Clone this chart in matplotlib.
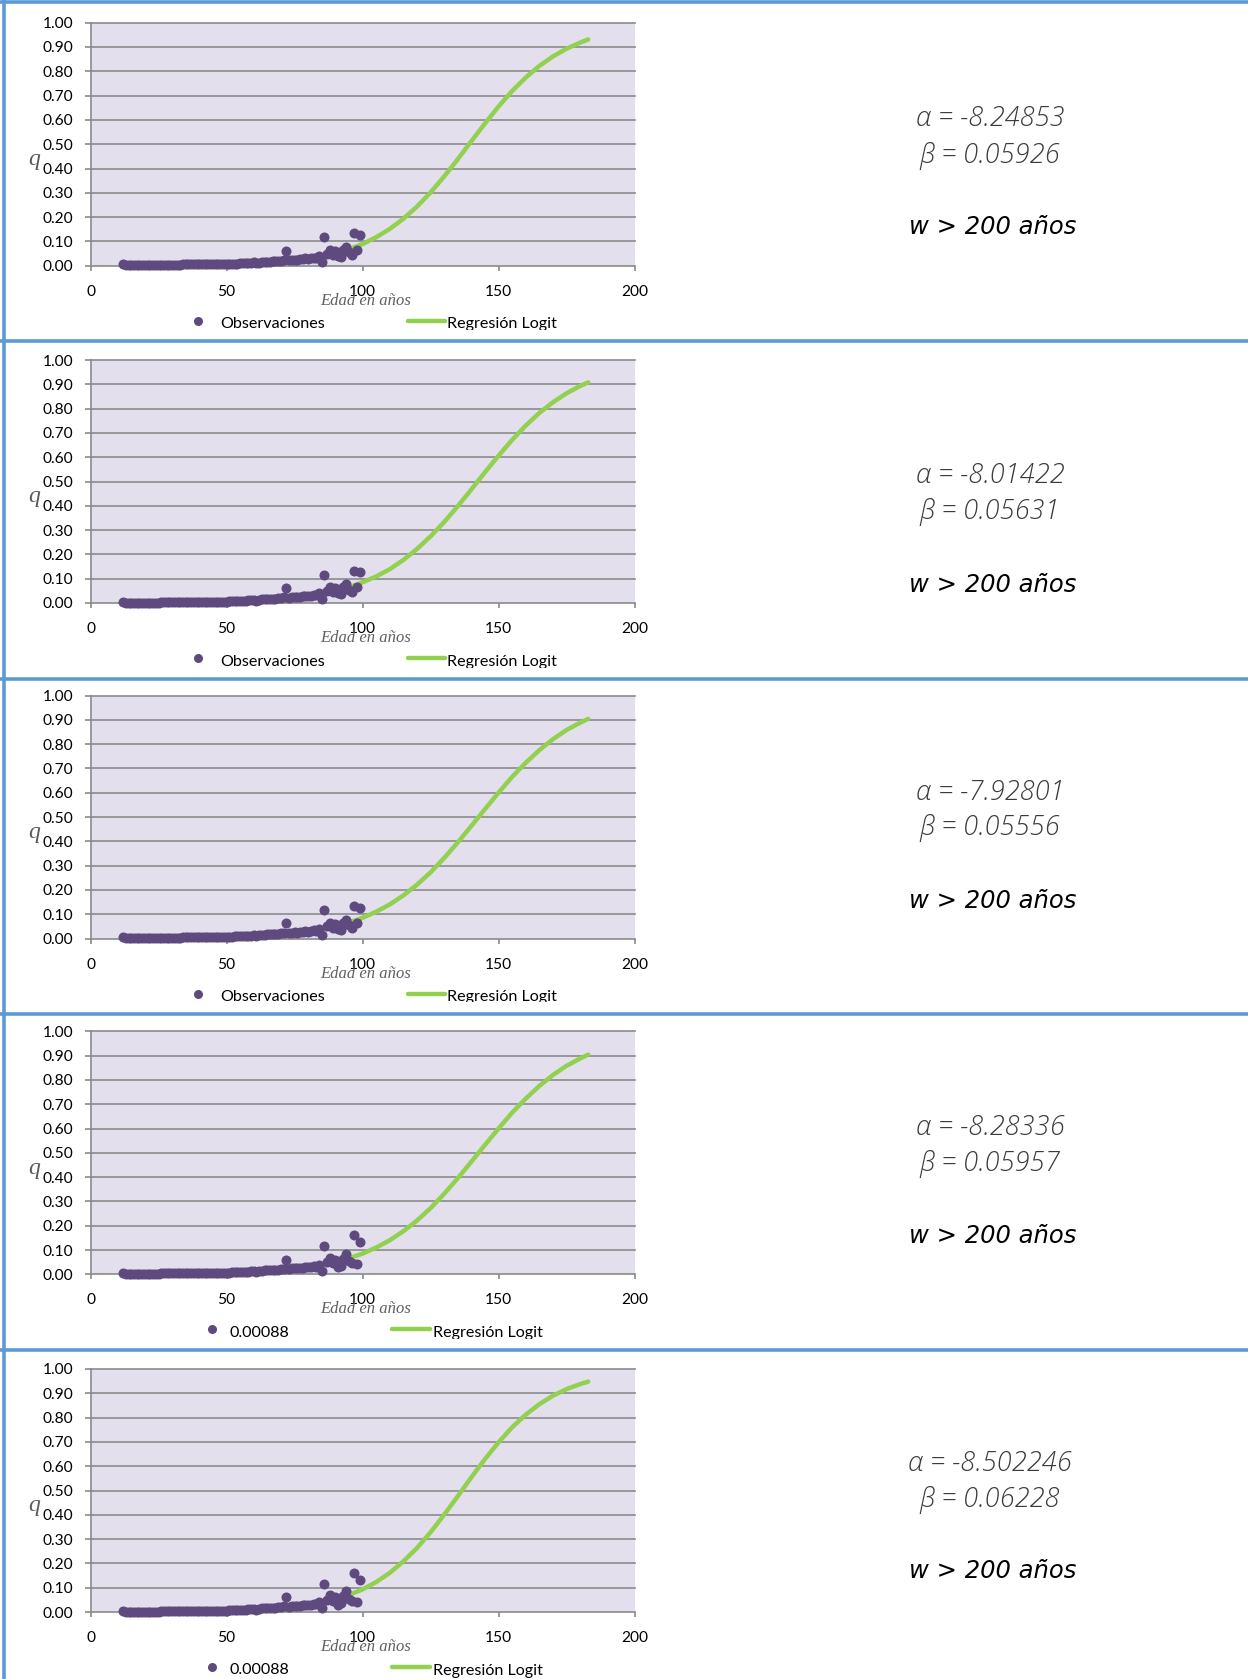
import matplotlib
matplotlib.use('Agg')
import matplotlib.pyplot as plt
from matplotlib.lines import Line2D
from matplotlib.transforms import Bbox, TransformedBbox

W, H = 1248, 1679

# ---- datos ----
obs_age = list(range(12, 100))
# filas 1-3
obs_q_a = [0.006, 0.002, 0.001, 0.001, 0.001, 0.001, 0.001, 0.001, 0.001, 0.001,
           0.001, 0.001, 0.001, 0.002, 0.004, 0.004, 0.004, 0.004, 0.004, 0.004,
           0.004, 0.004, 0.005, 0.005, 0.005, 0.005, 0.005, 0.005, 0.005, 0.005,
           0.005, 0.005, 0.006, 0.006, 0.006, 0.006, 0.006, 0.006, 0.006, 0.007,
           0.008, 0.009, 0.009, 0.010, 0.010, 0.010, 0.011, 0.012, 0.014, 0.010,
           0.013, 0.015, 0.016, 0.017, 0.017, 0.018, 0.018, 0.019, 0.021, 0.023,
           0.062, 0.022, 0.024, 0.025, 0.024, 0.026, 0.027, 0.030, 0.028, 0.030,
           0.033, 0.031, 0.040, 0.015, 0.117, 0.050, 0.064, 0.045, 0.060, 0.040,
           0.035, 0.065, 0.078, 0.055, 0.045, 0.133, 0.065, 0.126]
# filas 4-5
obs_q_b = [0.006, 0.002, 0.001, 0.001, 0.001, 0.001, 0.001, 0.001, 0.001, 0.001,
           0.001, 0.001, 0.001, 0.002, 0.004, 0.004, 0.004, 0.004, 0.004, 0.004,
           0.004, 0.004, 0.005, 0.005, 0.005, 0.005, 0.005, 0.005, 0.005, 0.005,
           0.005, 0.005, 0.006, 0.006, 0.006, 0.006, 0.006, 0.006, 0.006, 0.007,
           0.008, 0.009, 0.009, 0.010, 0.010, 0.010, 0.011, 0.012, 0.014, 0.010,
           0.013, 0.015, 0.016, 0.017, 0.017, 0.018, 0.018, 0.019, 0.021, 0.023,
           0.060, 0.022, 0.024, 0.025, 0.024, 0.026, 0.027, 0.030, 0.028, 0.030,
           0.033, 0.031, 0.040, 0.015, 0.115, 0.050, 0.068, 0.045, 0.060, 0.030,
           0.035, 0.065, 0.085, 0.055, 0.045, 0.162, 0.041, 0.132]

logit_age = [85, 90, 95, 100, 105, 110, 115, 120, 125, 130, 135, 140, 145,
             150, 155, 160, 165, 170, 175, 180, 183]
logit_q1 = [0.039, 0.051, 0.068, 0.089, 0.117, 0.151, 0.193, 0.243, 0.301, 0.367, 0.438,
            0.512, 0.585, 0.655, 0.719, 0.774, 0.822, 0.861, 0.893, 0.918, 0.931]
logit_q2 = [0.038, 0.050, 0.065, 0.085, 0.109, 0.139, 0.177, 0.222, 0.274, 0.333, 0.398,
            0.467, 0.538, 0.606, 0.671, 0.730, 0.782, 0.826, 0.863, 0.893, 0.908]
logit_q3 = [0.039, 0.051, 0.066, 0.085, 0.110, 0.140, 0.177, 0.221, 0.272, 0.331, 0.395,
            0.463, 0.532, 0.600, 0.665, 0.723, 0.775, 0.820, 0.858, 0.888, 0.904]
logit_q4 = [0.039, 0.051, 0.066, 0.085, 0.110, 0.140, 0.177, 0.221, 0.272, 0.331, 0.395,
            0.463, 0.532, 0.600, 0.665, 0.723, 0.775, 0.820, 0.858, 0.888, 0.904]
logit_q5 = [0.039, 0.052, 0.070, 0.093, 0.123, 0.161, 0.208, 0.263, 0.328, 0.400, 0.476,
            0.554, 0.629, 0.698, 0.760, 0.812, 0.855, 0.890, 0.917, 0.938, 0.948]

alphas = ['-8.24853', '-8.01422', '-7.92801', '-8.28336', '-8.502246']
betas = ['0.05926', '0.05631', '0.05556', '0.05957', '0.06228']
obs_names = ['Observaciones', 'Observaciones', 'Observaciones', '0.00088', '0.00088']
x_ticks = [0, 50, 100, 150, 200]
y_ticks = [0.0, 0.1, 0.2, 0.3, 0.4, 0.5, 0.6, 0.7, 0.8, 0.9, 1.0]

obs_rows = [obs_q_a, obs_q_a, obs_q_a, obs_q_b, obs_q_b]
logit_rows = [logit_q1, logit_q2, logit_q3, logit_q4, logit_q5]

# ---- posiciones (pixeles) ----
border_y = [1.7, 341, 679.5, 1013.5, 1350]
ax_bottom = [265.7, 603, 938.5, 1274.3, 1612]
ax_left, ax_w, ax_h = 90.5, 544, 243
alpha_y = [118.5, 475.5, 792.6, 1127.9, 1463.2]
beta_y = [155.8, 512, 828, 1164.3, 1499.6]
w_y = [226.5, 584.8, 900.8, 1236, 1571.4]
leg_x = [(198.3, 220, 408, 445, 446.7)] * 3 + [(212.3, 230, 391.7, 430, 433.3)] * 2

purple = '#5E4A7E'
green = '#92D050'
grid_c = '#8A8A8A'
blue = '#5B9BD5'

plt.rcParams['font.family'] = ['Lato', 'DejaVu Sans']


def fx(x):
    return x / W


def fy(y):
    return 1 - y / H


fig = plt.figure(figsize=(W / 100, H / 100), dpi=100)
fig.patch.set_facecolor('white')

for i in range(5):
    yb = ax_bottom[i]
    ax = fig.add_axes([fx(ax_left), fy(yb), ax_w / W, ax_h / H])
    ax.set_facecolor('#E4DFEC')
    ax.plot(logit_age, logit_rows[i], color=green, lw=3.2, solid_capstyle='round',
            zorder=3, clip_on=False)
    ax.scatter(obs_age, obs_rows[i], s=52, color=purple, zorder=4, clip_on=False,
               linewidths=0)
    ax.set_xlim(0, 200)
    ax.set_ylim(0, 1)
    ax.set_xticks(x_ticks)
    ax.set_xticklabels([str(t) for t in x_ticks])
    ax.set_yticks(y_ticks)
    ax.set_yticklabels(['%.2f' % t for t in y_ticks])
    for t in y_ticks[1:]:
        ax.axhline(t, color=grid_c, lw=1.2, zorder=1, clip_on=False)
    ax.spines['top'].set_visible(False)
    ax.spines['right'].set_visible(False)
    ax.spines['left'].set_color(grid_c)
    ax.spines['bottom'].set_color(grid_c)
    ax.spines['left'].set_linewidth(1.2)
    ax.spines['bottom'].set_linewidth(1.2)
    ax.tick_params(axis='y', length=4.5, width=1.2, color=grid_c, pad=8,
                   labelsize=11.2, labelcolor='black')
    ax.tick_params(axis='x', length=3.8, width=1.2, color=grid_c, pad=10,
                   labelsize=11.2, labelcolor='black')

    # titulos de ejes
    fig.text(fx(366), fy(yb + 35), 'Edad en años', family='Liberation Serif',
             style='italic', fontsize=12, color='#606060', ha='center', va='center')
    fig.text(fx(34), fy(yb - 106), 'q', family='Liberation Serif', style='italic',
             fontsize=17, color='#5A5A5A', ha='center', va='center')

    # leyenda
    mx, tx1, lx0, lx1, tx2 = leg_x[i]
    ly = yb + 55
    fig.add_artist(Line2D([fx(mx)], [fy(ly)], marker='o', ms=6.5, color=purple,
                          mec='none', transform=fig.transFigure))
    fig.add_artist(Line2D([fx(lx0), fx(lx1)], [fy(ly), fy(ly)], color=green, lw=3.2,
                          solid_capstyle='round', transform=fig.transFigure))
    clip_bottom = (border_y[i + 1] - 11.5) if i < 4 else H
    clip = TransformedBbox(Bbox([[0, fy(clip_bottom)], [1, fy(yb)]]), fig.transFigure)
    for tx, label in [(tx1, obs_names[i]), (tx2, 'Regresión Logit')]:
        t = fig.text(fx(tx), fy(ly + 7.5), label, fontsize=11.6, color='black',
                     ha='left', va='baseline')
        t.set_clip_box(clip)
        t.set_clip_on(True)

    # parametros
    fig.text(fx(990), fy(alpha_y[i]), 'α = ' + alphas[i], family=['Open Sans', 'DejaVu Sans'],
             style='italic', weight='light', fontsize=19.5, color='#3A3A3A',
             ha='center', va='center')
    fig.text(fx(990), fy(beta_y[i]), 'β = ' + betas[i], family=['Open Sans', 'DejaVu Sans'],
             style='italic', weight='light', fontsize=19.5, color='#3A3A3A',
             ha='center', va='center')
    fig.text(fx(993), fy(w_y[i]), 'w > 200 años', family='DejaVu Sans',
             style='oblique', fontsize=17.5, color='black', ha='center', va='center')

# bordes azules
for y in border_y:
    fig.add_artist(Line2D([0, 1], [fy(y), fy(y)], color=blue, lw=2.6,
                          transform=fig.transFigure))
fig.add_artist(Line2D([fx(4.3), fx(4.3)], [0, 1], color=blue, lw=2.6,
                      transform=fig.transFigure))

fig.savefig('out.png', dpi=100)
